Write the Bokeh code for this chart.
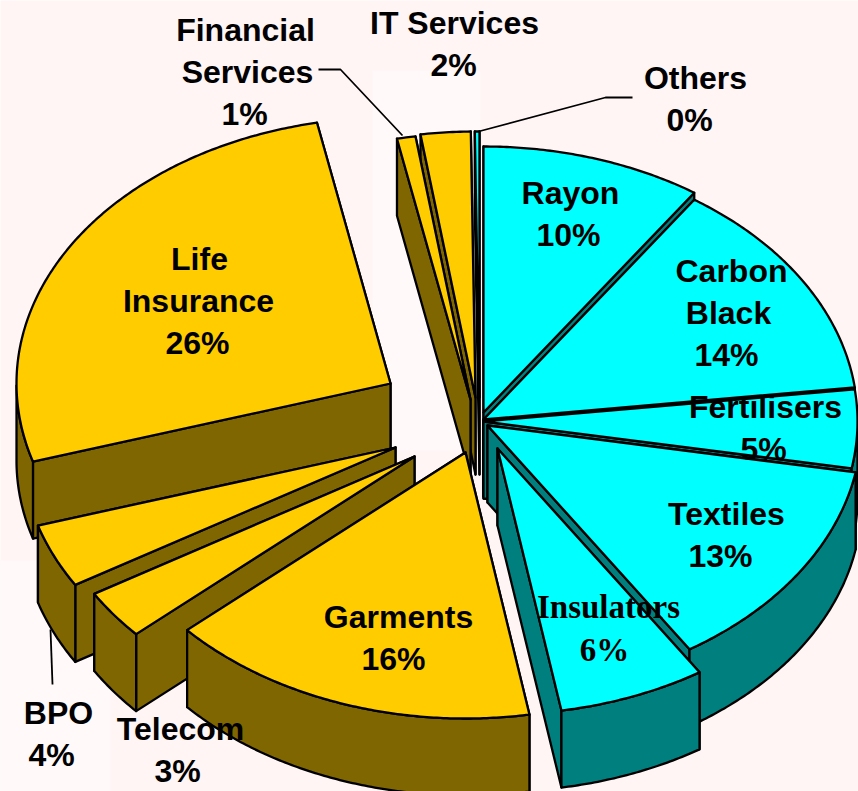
import numpy as np
from bokeh.plotting import figure
from bokeh.models import Range1d
from bokeh.core.properties import value
from bokeh.embed import file_html
from bokeh.resources import INLINE

# Data (shares; printed labels are the rounded ones)
categories = ["Rayon", "Carbon Black", "Fertilisers", "Textiles", "Insulators", "Garments",
              "Telecom", "BPO", "Life Insurance", "Financial Services", "IT Services", "Others"]
shares = [9.53, 13.55, 4.75, 13.1, 6.35, 16.1, 3.0, 3.9, 26.6, 0.8, 2.15, 0.2]
groups = ["c", "c", "c", "c", "c", "g", "g", "g", "g", "g", "g", "c"]
printed = ["10%", "14%", "5%", "13%", "6%", "16%", "3%", "4%", "26%", "1%", "2%", "0%"]

# Layout: exploded apex of each slice in page pixels
apex_x = [483, 483, 483, 487, 497, 465, 414, 395, 390, 470, 475, 479]
apex_y = [412, 419, 421, 425, 448, 452, 456, 447, 383, 399, 397, 397]
RX, RY, DEPTH = 374, 266, 77
TOP = {"c": "#00FFFF", "g": "#FFCC00"}
SIDE = {"c": "#007F7F", "g": "#7F6600"}
draw_order = [11, 10, 9, 8, 7, 6, 5, 0, 1, 2, 3, 4]

label_lines = [
    ("Financial", 245, 29), ("Services", 247, 71), (printed[9], 244, 113),
    ("IT Services", 454, 22), (printed[10], 453, 64),
    ("Others", 695, 77), (printed[11], 689, 119),
    ("Rayon", 570, 192), (printed[0], 568, 234),
    ("Carbon", 731, 270), ("Black", 728, 312), (printed[1], 726, 354),
    ("Fertilisers", 765, 406), (printed[2], 763, 448),
    ("Textiles", 726, 513), (printed[3], 720, 555),
    ("Garments", 398, 616), (printed[5], 393, 658),
    ("Life", 199, 258), ("Insurance", 198, 300), (printed[8], 197, 342),
    ("BPO", 58, 712), (printed[7], 51, 754),
    ("Telecom", 180, 728), (printed[6], 177, 770),
]
serif_lines = [("Insulators", 608, 606), (printed[4], 604, 649)]
leaders = [([318, 340, 402], [69, 69, 135]),
           ([632, 605, 478], [97, 97, 131]),
           ([50, 52], [629, 684])]

p = figure(width=858, height=791, x_range=Range1d(0, 858), y_range=Range1d(791, 0),
           output_backend="svg", toolbar_location=None, min_border=0,
           background_fill_color="#FFF5F5", border_fill_color="#FFF5F5")
p.axis.visible = False
p.grid.visible = False
p.outline_line_color = None

# Slightly paler patches of the slide background
p.quad(left=[0, 372], right=[110, 480], top=[560, 70], bottom=[791, 450],
       fill_color=["#FFF9F9", "#FFF9F9"], line_color=None)

edges = np.cumsum([0] + shares) / sum(shares) * 2 * np.pi
xs, ys, cols = [], [], []
for i in draw_order:
    ax, ay = apex_x[i], apex_y[i]
    t = np.linspace(edges[i], edges[i + 1], max(3, int(np.degrees(edges[i + 1] - edges[i]) * 2)))
    rx = ax + RX * np.sin(t)
    ry = ay - RY * np.cos(t)
    side, top = SIDE[groups[i]], TOP[groups[i]]
    # radial walls, farther one first so the nearer one covers it
    ends = sorted([(ry[0], rx[0]), (ry[-1], rx[-1])])
    for (ey, ex) in ends:
        xs.append([ax, ex, ex, ax])
        ys.append([ay, ey, ey + DEPTH, ay + DEPTH])
        cols.append(side)
    # outer wall only where the rim faces the viewer
    front = np.cos(t) < 0
    if front.sum() >= 2:
        fx, fy = rx[front], ry[front]
        xs.append(list(fx) + list(fx[::-1]))
        ys.append(list(fy) + list(fy[::-1] + DEPTH))
        cols.append(side)
    xs.append([ax] + list(rx))
    ys.append([ay] + list(ry))
    cols.append(top)

p.patches(xs, ys, fill_color=cols, line_color="#000000", line_width=2.3, line_join="round")
p.multi_line([l[0] for l in leaders], [l[1] for l in leaders], line_color="#000000", line_width=1.8)

p.text([l[1] for l in label_lines], [l[2] for l in label_lines], text=[l[0] for l in label_lines],
       text_font=value("Liberation Sans"), text_font_style="bold", text_font_size=value("32px"),
       text_align="center", text_baseline="middle", text_color="#000000")
p.text([l[1] for l in serif_lines], [l[2] for l in serif_lines], text=[l[0] for l in serif_lines],
       text_font=value("Liberation Serif"), text_font_style="bold", text_font_size=value("33px"),
       text_align="center", text_baseline="middle", text_color="#000000")

open("out.html", "w").write(file_html(p, INLINE))
